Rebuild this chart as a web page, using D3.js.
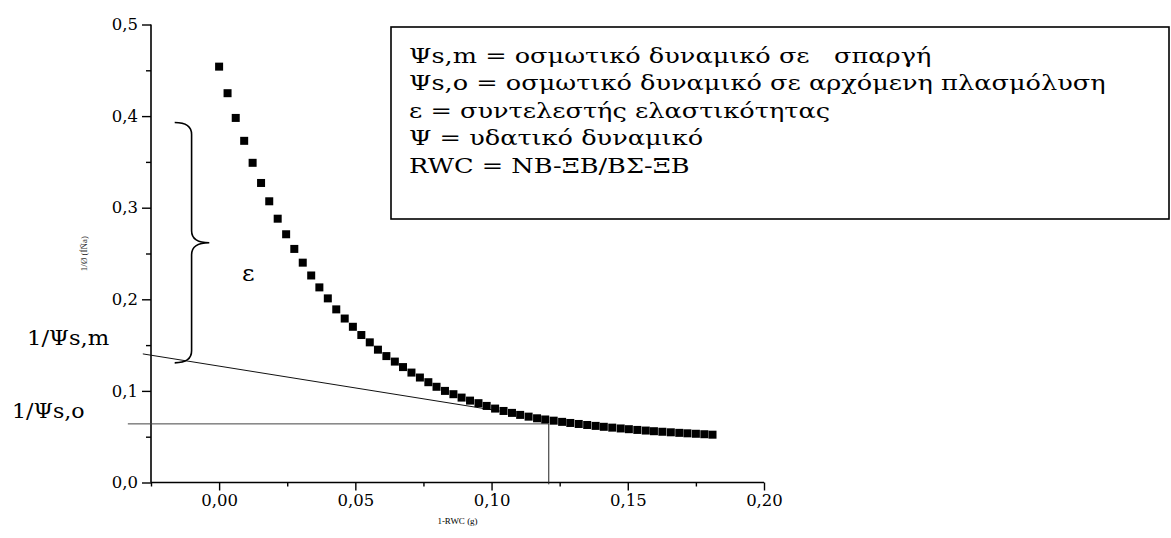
<!DOCTYPE html>
<html>
<head>
<meta charset="utf-8">
<script src="https://cdn.jsdelivr.net/npm/d3@7"></script>
<style>
  body { margin: 0; background: #fff; }
  svg { display: block; }
  text { font-family: "DejaVu Serif", serif; fill: #000; }
</style>
</head>
<body>
<div id="chart"></div>
<script>
// data
const xValues = [0.0000, 0.0031, 0.0061, 0.0092, 0.0123, 0.0154, 0.0184, 0.0215, 0.0246, 0.0276,
    0.0307, 0.0338, 0.0368, 0.0399, 0.0430, 0.0461, 0.0491, 0.0522, 0.0553, 0.0583,
    0.0614, 0.0645, 0.0675, 0.0706, 0.0737, 0.0768, 0.0798, 0.0829, 0.0860, 0.0890,
    0.0921, 0.0952, 0.0982, 0.1013, 0.1044, 0.1075, 0.1105, 0.1136, 0.1167, 0.1197,
    0.1228, 0.1259, 0.1289, 0.1320, 0.1351, 0.1382, 0.1412, 0.1443, 0.1474, 0.1504,
    0.1535, 0.1566, 0.1596, 0.1627, 0.1658, 0.1689, 0.1719, 0.1750, 0.1781, 0.1811];
const yValues = [0.454, 0.425, 0.398, 0.373, 0.349, 0.327, 0.307, 0.288, 0.271, 0.255,
    0.240, 0.226, 0.213, 0.201, 0.189, 0.179, 0.170, 0.161, 0.153, 0.145,
    0.138, 0.132, 0.126, 0.120, 0.1146, 0.1095, 0.1045, 0.1000, 0.0964, 0.0927,
    0.0894, 0.0866, 0.0836, 0.0807, 0.0781, 0.0760, 0.0738, 0.0719, 0.0701, 0.0688,
    0.0675, 0.0662, 0.0650, 0.0639, 0.0628, 0.0618, 0.0608, 0.0599, 0.0590, 0.0582,
    0.0574, 0.0567, 0.0560, 0.0554, 0.0548, 0.0542, 0.0537, 0.0532, 0.0527, 0.0522];

const xTicks = [0, 0.05, 0.10, 0.15, 0.20];
const xMinorTicks = [-0.025, 0.025, 0.075, 0.125, 0.175];
const yTicks = [0, 0.1, 0.2, 0.3, 0.4, 0.5];
const yMinorTicks = [0.05, 0.15, 0.25, 0.35, 0.45];

// annotation lines, in data units
const tangentLine = [[-0.028, 0.1404], [0.103, 0.078]];
const osmoLine = [[-0.0335, 0.064], [0.121, 0.064]];
const dropLine = [[0.121, 0.064], [0.121, -0.002]];
const braceRange = [0.1306, 0.393];

const legendLines = [
    "Ψs,m = οσμωτικό δυναμικό σε   σπαργή",
    "Ψs,o = οσμωτικό δυναμικό σε αρχόμενη πλασμόλυση",
    "ε = συντελεστής ελαστικότητας",
    "Ψ = υδατικό δυναμικό",
    "RWC = NB-ΞB/BΣ-ΞB"
];

//set dimensions
const width = 1171,
    height = 538,
    margin = { top: 24.5, right: 407, bottom: 55.5, left: 151 };

const svg = d3.select("#chart")
    .append("svg")
    .attr("width", width)
    .attr("height", height);

// scales
const xScale = d3.scaleLinear()
    .domain([-0.025, 0.20])
    .range([margin.left, width - margin.right]);
const yScale = d3.scaleLinear()
    .domain([0, 0.5])
    .range([height - margin.bottom, margin.top]);

const comma = f => d => d3.format(f)(d).replace(".", ",");

// axes
const xAxis = d3.axisBottom(xScale).tickValues(xTicks).tickSize(8).tickPadding(4).tickFormat(comma(".2f"));
const xMinor = d3.axisBottom(xScale).tickValues(xMinorTicks).tickSize(4).tickFormat("");
const yAxis = d3.axisLeft(yScale).tickValues(yTicks).tickSize(9).tickPadding(4).tickFormat(comma(".1f"));
const yMinor = d3.axisLeft(yScale).tickValues(yMinorTicks).tickSize(5).tickFormat("");

const styleAxis = g => {
    g.select(".domain").attr("stroke", "#000").attr("stroke-width", 1.6);
    g.selectAll(".tick line").attr("stroke", "#000").attr("stroke-width", 1.4);
    g.selectAll("text").attr("font-family", "DejaVu Serif").attr("font-size", 16.5).attr("fill", "#000");
};

svg.append("g")
    .attr("transform", `translate(0,${yScale(0)})`)
    .call(xAxis).call(styleAxis)
    .call(g => g.select(".domain").attr("d", `M${xScale(-0.025)},0H${xScale(0.2)}`));
svg.append("g")
    .attr("transform", `translate(0,${yScale(0)})`)
    .call(xMinor).call(styleAxis)
    .call(g => g.select(".domain").remove());
svg.append("g")
    .attr("transform", `translate(${xScale(-0.025)},0)`)
    .call(yAxis).call(styleAxis)
    .call(g => g.select(".domain").attr("d", `M0,${yScale(0.5)}V${yScale(0)}`));
svg.append("g")
    .attr("transform", `translate(${xScale(-0.025)},0)`)
    .call(yMinor).call(styleAxis)
    .call(g => g.select(".domain").remove());

// axis titles
svg.append("text")
    .attr("x", (xScale.range()[0] + xScale.range()[1]) / 2)
    .attr("y", 524)
    .attr("text-anchor", "middle")
    .style("font-family", "Liberation Serif")
    .attr("font-size", 9)
    .text("1-RWC (g)");
svg.append("text")
    .attr("transform", `translate(87,${(yScale(0) + yScale(0.5)) / 2}) rotate(-90)`)
    .attr("text-anchor", "middle")
    .style("font-family", "Liberation Serif")
    .attr("font-size", 9)
    .style("fill", "#333")
    .text("1/Ø (ÍÑa)");

// annotation lines
const line = d3.line().x(d => xScale(d[0])).y(d => yScale(d[1]));
svg.append("path").attr("d", line(tangentLine)).attr("stroke", "#111").attr("stroke-width", 1).attr("fill", "none");
svg.append("path").attr("d", line(osmoLine)).attr("stroke", "#444").attr("stroke-width", 1).attr("fill", "none");
svg.append("path").attr("d", line(dropLine)).attr("stroke", "#222").attr("stroke-width", 1).attr("fill", "none");

// brace
const bx0 = xScale(-0.0163), bx1 = xScale(-0.0101), bx2 = xScale(-0.0036);
const bTop = yScale(braceRange[1]), bBot = yScale(braceRange[0]), bMid = (bTop + bBot) / 2;
const r = 12;
svg.append("path")
    .attr("d", `M${bx0},${bTop} Q${bx1},${bTop} ${bx1},${bTop + r} L${bx1},${bMid - r} Q${bx1},${bMid} ${bx2},${bMid}` +
        ` Q${bx1},${bMid} ${bx1},${bMid + r} L${bx1},${bBot - r} Q${bx1},${bBot} ${bx0},${bBot}`)
    .attr("fill", "none")
    .attr("stroke", "#000")
    .attr("stroke-width", 1.6);

// scatter squares
const points = xValues.map((x, i) => ({ x: x, y: yValues[i] }));
const size = 8;
svg.append("g")
    .selectAll("rect")
    .data(points)
    .enter()
    .append("rect")
    .attr("x", d => xScale(d.x) - size / 2)
    .attr("y", d => yScale(d.y) - size / 2)
    .attr("width", size)
    .attr("height", size)
    .attr("fill", "#000");

// labels (wide serif look: stretch horizontally)
const wideText = (x, y, s, k, str) => svg.append("text")
    .attr("transform", `translate(${x},${y}) scale(${k},1)`)
    .attr("font-size", s)
    .text(str);
wideText(27, 345, 21, 1.08, "1/Ψs,m");
wideText(12, 418, 20.5, 1.08, "1/Ψs,o");
wideText(242, 281, 22, 1.1, "ε");

// legend box
const legend = svg.append("g").attr("id", "legend");
legend.append("rect")
    .attr("x", 391).attr("y", 27)
    .attr("width", 778).attr("height", 192)
    .attr("fill", "#fff")
    .attr("stroke", "#000")
    .attr("stroke-width", 1.6);
legend.selectAll("text")
    .data(legendLines)
    .enter()
    .append("text")
    .attr("transform", (d, i) => `translate(409,${63 + i * 27.4}) scale(1.28,1)`)
    .attr("font-size", 20)
    .style("font-family", "DejaVu Serif")
    .style("white-space", "pre")
    .text(d => d);
</script>
</body>
</html>
